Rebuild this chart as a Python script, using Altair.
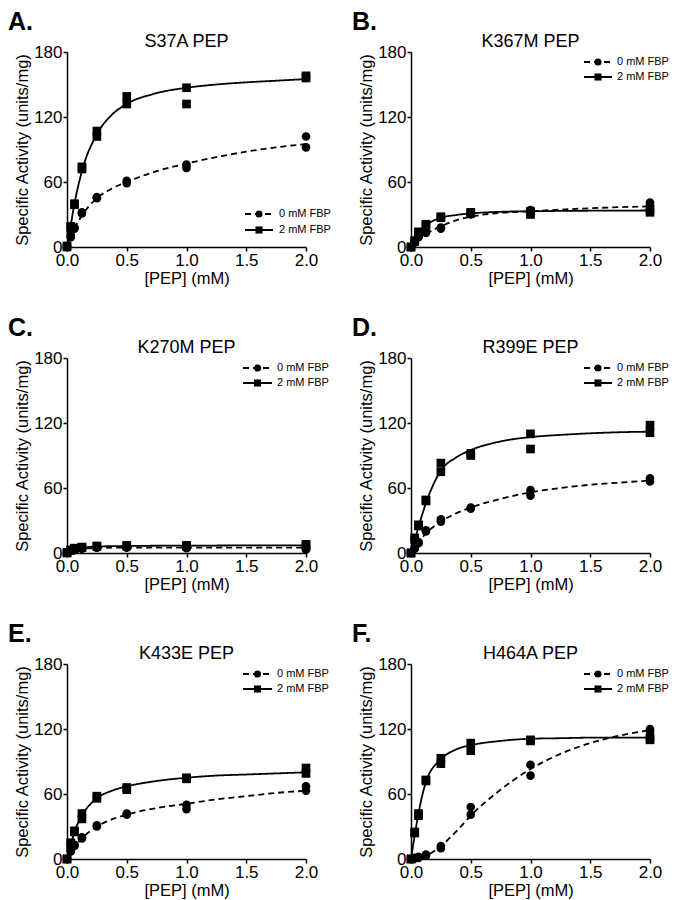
import altair as alt
import pandas as pd

# ---------------- data ----------------
PEP = [0, 0.03125, 0.0625, 0.125, 0.25, 0.5, 1.0, 2.0]
FIT_X = [0, 0.03125, 0.0625, 0.125, 0.25, 0.375, 0.5, 0.75, 1.0, 1.25, 1.5, 1.75, 2.0]
SERIES = ["0 mM FBP", "2 mM FBP"]
LETTERS = ["A.", "B.", "C.", "D.", "E.", "F."]
TITLES = ["S37A PEP", "K367M PEP", "K270M PEP", "R399E PEP", "K433E PEP", "H464A PEP"]
X_TICKS = [0, 0.5, 1.0, 1.5, 2.0]
Y_TICKS = [0, 60, 120, 180]

# duplicate measurements per PEP concentration
A_0MM = [[0, 0], [9, 11], [17, 18], [31, 32], [45, 46], [59, 61], [73, 76], [92, 102]]
A_2MM = [[0, 1], [17, 19], [39, 40], [72, 74], [102, 107], [132, 139], [132, 147], [156, 158]]
B_0MM = [[0, 0], [4, 5], [9, 10], [13, 14], [17, 18], [30, 31], [33, 34], [38, 41]]
B_2MM = [[0, 0], [5, 6], [12, 14], [20, 21], [27, 28], [31, 32], [30, 33], [32, 35]]
C_0MM = [[0, 0], [2, 2.5], [3, 3.5], [4, 4.5], [5, 5], [5, 5.5], [4.5, 5], [3, 4.5]]
C_2MM = [[0, 0.5], [2.5, 3], [4, 4.5], [5, 5.5], [6, 6.5], [6.5, 7], [6.5, 7], [6, 8]]
D_0MM = [[0, 0], [4, 5], [9, 10], [20, 21], [29, 31], [41, 42], [53, 58], [66, 69]]
D_2MM = [[0, 0], [12, 14], [25, 26], [48, 49], [75, 83], [90, 92], [96, 110], [111, 118]]
E_0MM = [[0, 0], [7, 8], [12, 13], [19, 20], [30, 31], [41, 42], [46, 50], [63, 67]]
E_2MM = [[0, 0], [13, 15], [25, 26], [37, 42], [56, 58], [64, 66], [74, 75], [79, 84]]
F_0MM = [[0, 0], [0.5, 1], [1, 2], [3, 4], [10, 12], [41, 48], [77, 87], [118, 120]]
F_2MM = [[0, 0], [24, 25], [40, 42], [72, 73], [88, 93], [100, 107], [109, 110], [110, 112]]

# fitted curves at FIT_X
A_FIT_0 = [0, 9, 17, 29, 45, 54, 60, 70, 77, 83, 88, 92, 95]
A_FIT_2 = [0, 20, 40, 70, 104, 122, 132, 142, 147, 150, 152, 153.5, 155]
B_FIT_0 = [0, 3.5, 7, 12, 19, 24.5, 28, 31.5, 33, 34.5, 35.8, 36.8, 37.5]
B_FIT_2 = [0, 7, 13, 20, 27, 29.5, 31, 32.5, 33, 33.3, 33.5, 33.6, 33.7]
C_FIT_0 = [0, 2, 3, 4, 4.7, 4.9, 5, 5, 5, 5, 5, 5, 5]
C_FIT_2 = [0, 2.5, 4, 5, 6, 6.3, 6.5, 6.7, 6.8, 6.9, 7, 7, 7]
D_FIT_0 = [0, 5, 10, 18, 29, 36.5, 42, 50, 56, 60, 63, 65, 67]
D_FIT_2 = [0, 12, 24, 46, 76, 88, 95, 103, 107, 109, 110.5, 111.5, 112]
E_FIT_0 = [0, 6, 11, 19, 30, 36.5, 41, 47, 51, 55, 58, 61, 63]
E_FIT_2 = [0, 13, 25, 40, 56, 63, 67, 72, 75, 77, 78, 79, 80]
F_FIT_0 = [0, 0.3, 1, 3, 12, 25, 40, 64, 83, 97, 107, 114, 119]
F_FIT_2 = [0, 22, 42, 71, 92, 101, 105, 109, 111, 111.5, 112, 112, 112]

POINTS = [(A_0MM, A_2MM), (B_0MM, B_2MM), (C_0MM, C_2MM),
          (D_0MM, D_2MM), (E_0MM, E_2MM), (F_0MM, F_2MM)]
FITS = [(A_FIT_0, A_FIT_2), (B_FIT_0, B_FIT_2), (C_FIT_0, C_FIT_2),
        (D_FIT_0, D_FIT_2), (E_FIT_0, E_FIT_2), (F_FIT_0, F_FIT_2)]

# ---------------- styling ----------------
FONT = "Liberation Sans"
W, H = 239, 195
# legend layout (pixels inside each panel): row y's, line x1, x2, text x
LEGEND_LAYOUT = [
    ([162, 178], 178, 206, 212),
    ([10, 25], 173, 201, 206),
    ([10, 25], 176, 205, 210),
    ([10, 25], 173, 201, 206),
    ([10, 25], 176, 205, 210),
    ([10, 25], 173, 201, 206),
]

dash_scale = alt.Scale(domain=SERIES, range=[[6, 4], [1, 0]])
shape_scale = alt.Scale(domain=SERIES, range=["circle", "square"])


def panel(i):
    p0, p2 = POINTS[i]
    f0, f2 = FITS[i]
    rows = []
    for j, x in enumerate(PEP):
        for r in range(2):
            rows.append({"pep": x, "act": p0[j][r], "series": SERIES[0]})
            rows.append({"pep": x, "act": p2[j][r], "series": SERIES[1]})
    pts = pd.DataFrame(rows)
    fit = pd.DataFrame(
        [{"pep": x, "act": f0[k], "series": SERIES[0]} for k, x in enumerate(FIT_X)]
        + [{"pep": x, "act": f2[k], "series": SERIES[1]} for k, x in enumerate(FIT_X)]
    )

    x = alt.X("pep:Q", scale=alt.Scale(domain=[0, 2], nice=False),
              axis=alt.Axis(values=X_TICKS, format=".1f", title="[PEP] (mM)"))
    y = alt.Y("act:Q", scale=alt.Scale(domain=[0, 180], nice=False),
              axis=alt.Axis(values=Y_TICKS, format="d", title="Specific Activity (units/mg)"))

    lines = alt.Chart(fit).mark_line(color="black", strokeWidth=1.8, interpolate="monotone").encode(
        x=x, y=y,
        strokeDash=alt.StrokeDash("series:N", scale=dash_scale, legend=None),
        detail="series:N",
    )
    dots = alt.Chart(pts).mark_point(filled=True, color="black", opacity=1, size=75).encode(
        x=x, y=y,
        shape=alt.Shape("series:N", scale=shape_scale, legend=None),
    )

    layers = [lines, dots]

    ly, lx1, lx2, tx = LEGEND_LAYOUT[i]
    for k, s in enumerate(SERIES):
        d = pd.DataFrame({"series": [s]})
        layers.append(alt.Chart(d).mark_rule(color="black", strokeWidth=1.8).encode(
            x=alt.value(lx1), x2=alt.value(lx2), y=alt.value(ly[k]),
            strokeDash=alt.StrokeDash("series:N", scale=dash_scale, legend=None)))
        layers.append(alt.Chart(d).mark_point(filled=True, color="black", opacity=1, size=50).encode(
            x=alt.value((lx1 + lx2) / 2), y=alt.value(ly[k]),
            shape=alt.Shape("series:N", scale=shape_scale, legend=None)))
        layers.append(alt.Chart(d).mark_text(font=FONT, fontSize=11, align="left",
                                             baseline="middle", color="black").encode(
            x=alt.value(tx), y=alt.value(ly[k]), text="series:N"))

    heads = pd.DataFrame({"letter": [LETTERS[i]], "title": [TITLES[i]]})
    layers.append(alt.Chart(heads).mark_text(
        font=FONT, fontSize=25, fontWeight="bold", align="left", baseline="alphabetic", color="black"
    ).encode(x=alt.value(-59), y=alt.value(-22), text="letter:N"))
    layers.append(alt.Chart(heads).mark_text(
        font=FONT, fontSize=18, align="center", baseline="alphabetic", color="black"
    ).encode(x=alt.value(W / 2), y=alt.value(-5), text="title:N"))

    return alt.layer(*layers).properties(width=W, height=H)


chart = alt.concat(
    *[panel(i) for i in range(6)],
    columns=2,
    spacing={"row": 111, "column": 105},
    bounds="flush",
    padding={"top": 2, "left": 0, "right": 0, "bottom": 0},
).configure_view(stroke=None).configure_axis(
    grid=False,
    domainColor="black", domainWidth=1.5,
    tickColor="black", tickWidth=1.5, tickSize=4,
    labelFont=FONT, labelFontSize=17, labelColor="black", labelPadding=1, labelFlush=False,
    titleFont=FONT, titleFontSize=16.5, titleFontWeight="normal", titleColor="black",
).configure_axisX(titlePadding=2).configure_axisY(titlePadding=3)

chart.save("out.html", embed_options={"renderer": "svg", "actions": False})
